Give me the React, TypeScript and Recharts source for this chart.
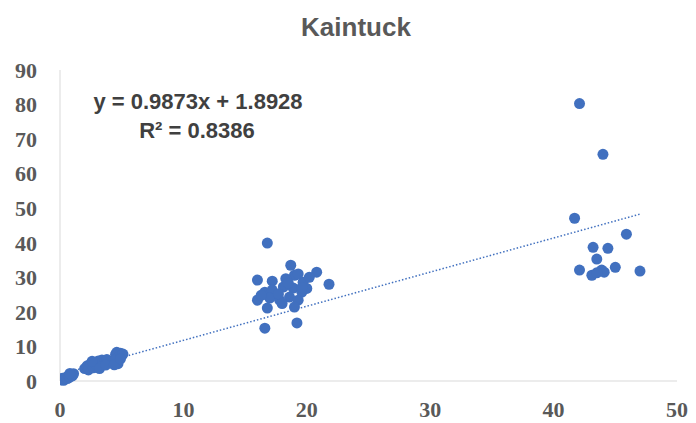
import { ScatterChart, Scatter, XAxis, YAxis, ReferenceLine } from 'recharts';

type Pt = { x: number; y: number };

// points, grouped by cluster
const lowCluster: Pt[] = [
  { x: 0.1, y: 0.3 }, { x: 0.2, y: 0.8 }, { x: 0.3, y: 0.2 }, { x: 0.4, y: 0.6 },
  { x: 0.5, y: 1.1 }, { x: 0.6, y: 0.7 }, { x: 0.7, y: 1.4 }, { x: 0.8, y: 1.1 },
  { x: 0.9, y: 1.8 }, { x: 1.0, y: 1.5 }, { x: 1.1, y: 2.1 }, { x: 0.8, y: 2.2 },
  { x: 2.0, y: 3.6 }, { x: 2.2, y: 4.4 }, { x: 2.3, y: 3.2 }, { x: 2.5, y: 4.9 },
  { x: 2.7, y: 3.8 }, { x: 2.8, y: 5.3 }, { x: 3.0, y: 4.4 }, { x: 3.1, y: 5.8 },
  { x: 3.3, y: 4.9 }, { x: 3.4, y: 6.1 }, { x: 3.6, y: 5.4 }, { x: 3.8, y: 6.2 },
  { x: 2.6, y: 5.7 }, { x: 3.2, y: 3.6 }, { x: 3.7, y: 4.6 },
  { x: 4.5, y: 7.7 }, { x: 4.6, y: 8.3 }, { x: 4.8, y: 7.1 }, { x: 4.5, y: 6.2 },
  { x: 4.9, y: 8.0 }, { x: 5.0, y: 7.4 }, { x: 5.1, y: 7.8 }, { x: 4.7, y: 5.0 },
  { x: 4.4, y: 4.7 }, { x: 4.9, y: 6.4 },
];

const midCluster: Pt[] = [
  { x: 16.8, y: 39.9 }, { x: 18.7, y: 33.5 }, { x: 20.8, y: 31.5 }, { x: 16.0, y: 29.2 },
  { x: 17.2, y: 28.9 }, { x: 19.0, y: 30.6 }, { x: 19.7, y: 28.6 }, { x: 21.8, y: 28.0 },
  { x: 18.1, y: 27.2 }, { x: 18.9, y: 26.9 }, { x: 19.6, y: 25.7 }, { x: 16.6, y: 25.7 },
  { x: 17.2, y: 26.3 }, { x: 16.0, y: 23.4 }, { x: 17.0, y: 24.0 }, { x: 17.8, y: 23.4 },
  { x: 18.6, y: 24.3 }, { x: 19.3, y: 23.4 }, { x: 16.8, y: 21.1 }, { x: 19.0, y: 21.4 },
  { x: 16.6, y: 15.3 }, { x: 19.2, y: 16.8 }, { x: 18.3, y: 29.6 }, { x: 20.0, y: 26.8 },
  { x: 17.7, y: 25.2 }, { x: 19.3, y: 31.0 }, { x: 20.2, y: 30.0 }, { x: 16.3, y: 24.8 },
  { x: 18.0, y: 22.4 }, { x: 19.6, y: 27.0 }, { x: 18.5, y: 28.3 },
];

const highCluster: Pt[] = [
  { x: 42.1, y: 80.3 }, { x: 44.0, y: 65.6 }, { x: 41.7, y: 47.1 }, { x: 45.9, y: 42.5 },
  { x: 43.2, y: 38.7 }, { x: 44.4, y: 38.4 }, { x: 43.5, y: 35.3 }, { x: 42.1, y: 32.1 },
  { x: 43.1, y: 30.6 }, { x: 43.9, y: 32.1 }, { x: 44.1, y: 31.5 }, { x: 45.0, y: 32.9 },
  { x: 47.0, y: 31.8 }, { x: 43.5, y: 31.3 },
];

const points = [...lowCluster, ...midCluster, ...highCluster];

const xTicks = [0, 10, 20, 30, 40, 50];
const yTicks = [0, 10, 20, 30, 40, 50, 60, 70, 80, 90];

// trendline as printed on the chart
const slope = 0.9873;
const intercept = 1.8928;
const xs = points.map((p) => p.x);
const trendX = [Math.min(...xs), Math.max(...xs)];

const blue = '#4170BF';
const grey = '#595959';

const tickStyle = {
  fontFamily: '"Liberation Serif", serif',
  fontWeight: 'bold',
  fontSize: 22,
  fill: grey,
};

const eqStyle = {
  position: 'absolute' as const,
  transform: 'translate(-50%, -50%)',
  fontFamily: '"Liberation Sans", sans-serif',
  fontWeight: 'bold',
  fontSize: 22,
  lineHeight: 1,
  color: '#404040',
  whiteSpace: 'nowrap' as const,
};

export default function App() {
  return (
    <div style={{ position: 'absolute', left: 0, top: 0, width: 696, height: 423, background: '#fff', overflow: 'hidden' }}>
      <div
        style={{
          position: 'absolute',
          left: 356,
          top: 27,
          transform: 'translate(-50%, -50%)',
          fontFamily: '"Liberation Sans", sans-serif',
          fontWeight: 'bold',
          fontSize: 26,
          lineHeight: 1,
          color: grey,
          whiteSpace: 'nowrap',
        }}
      >
        Kaintuck
      </div>
      <ScatterChart width={696} height={423} margin={{ top: 70, right: 19, bottom: 12, left: 20 }}>
        <XAxis
          type="number"
          dataKey="x"
          domain={[0, 50]}
          ticks={xTicks}
          height={30}
          tickLine={false}
          tickSize={0}
          tickMargin={20}
          stroke="#d9d9d9"
          tick={tickStyle}
          allowDataOverflow
        />
        <YAxis
          type="number"
          dataKey="y"
          domain={[0, 90]}
          ticks={yTicks}
          width={40}
          tickLine={false}
          tickSize={0}
          tickMargin={23}
          stroke="#d9d9d9"
          tick={tickStyle}
        />
        <Scatter
          data={points}
          isAnimationActive={false}
          shape={(p: any) => <circle cx={p.cx} cy={p.cy} r={5.5} fill={blue} />}
        />
        <ReferenceLine
          segment={[
            { x: trendX[0], y: slope * trendX[0] + intercept },
            { x: trendX[1], y: slope * trendX[1] + intercept },
          ]}
          stroke={blue}
          strokeWidth={1.5}
          strokeDasharray="1.5 2"
          ifOverflow="visible"
        />
      </ScatterChart>
      <div style={{ ...eqStyle, left: 198, top: 102 }}>y = 0.9873x + 1.8928</div>
      <div style={{ ...eqStyle, left: 197, top: 131 }}>R² = 0.8386</div>
    </div>
  );
}
